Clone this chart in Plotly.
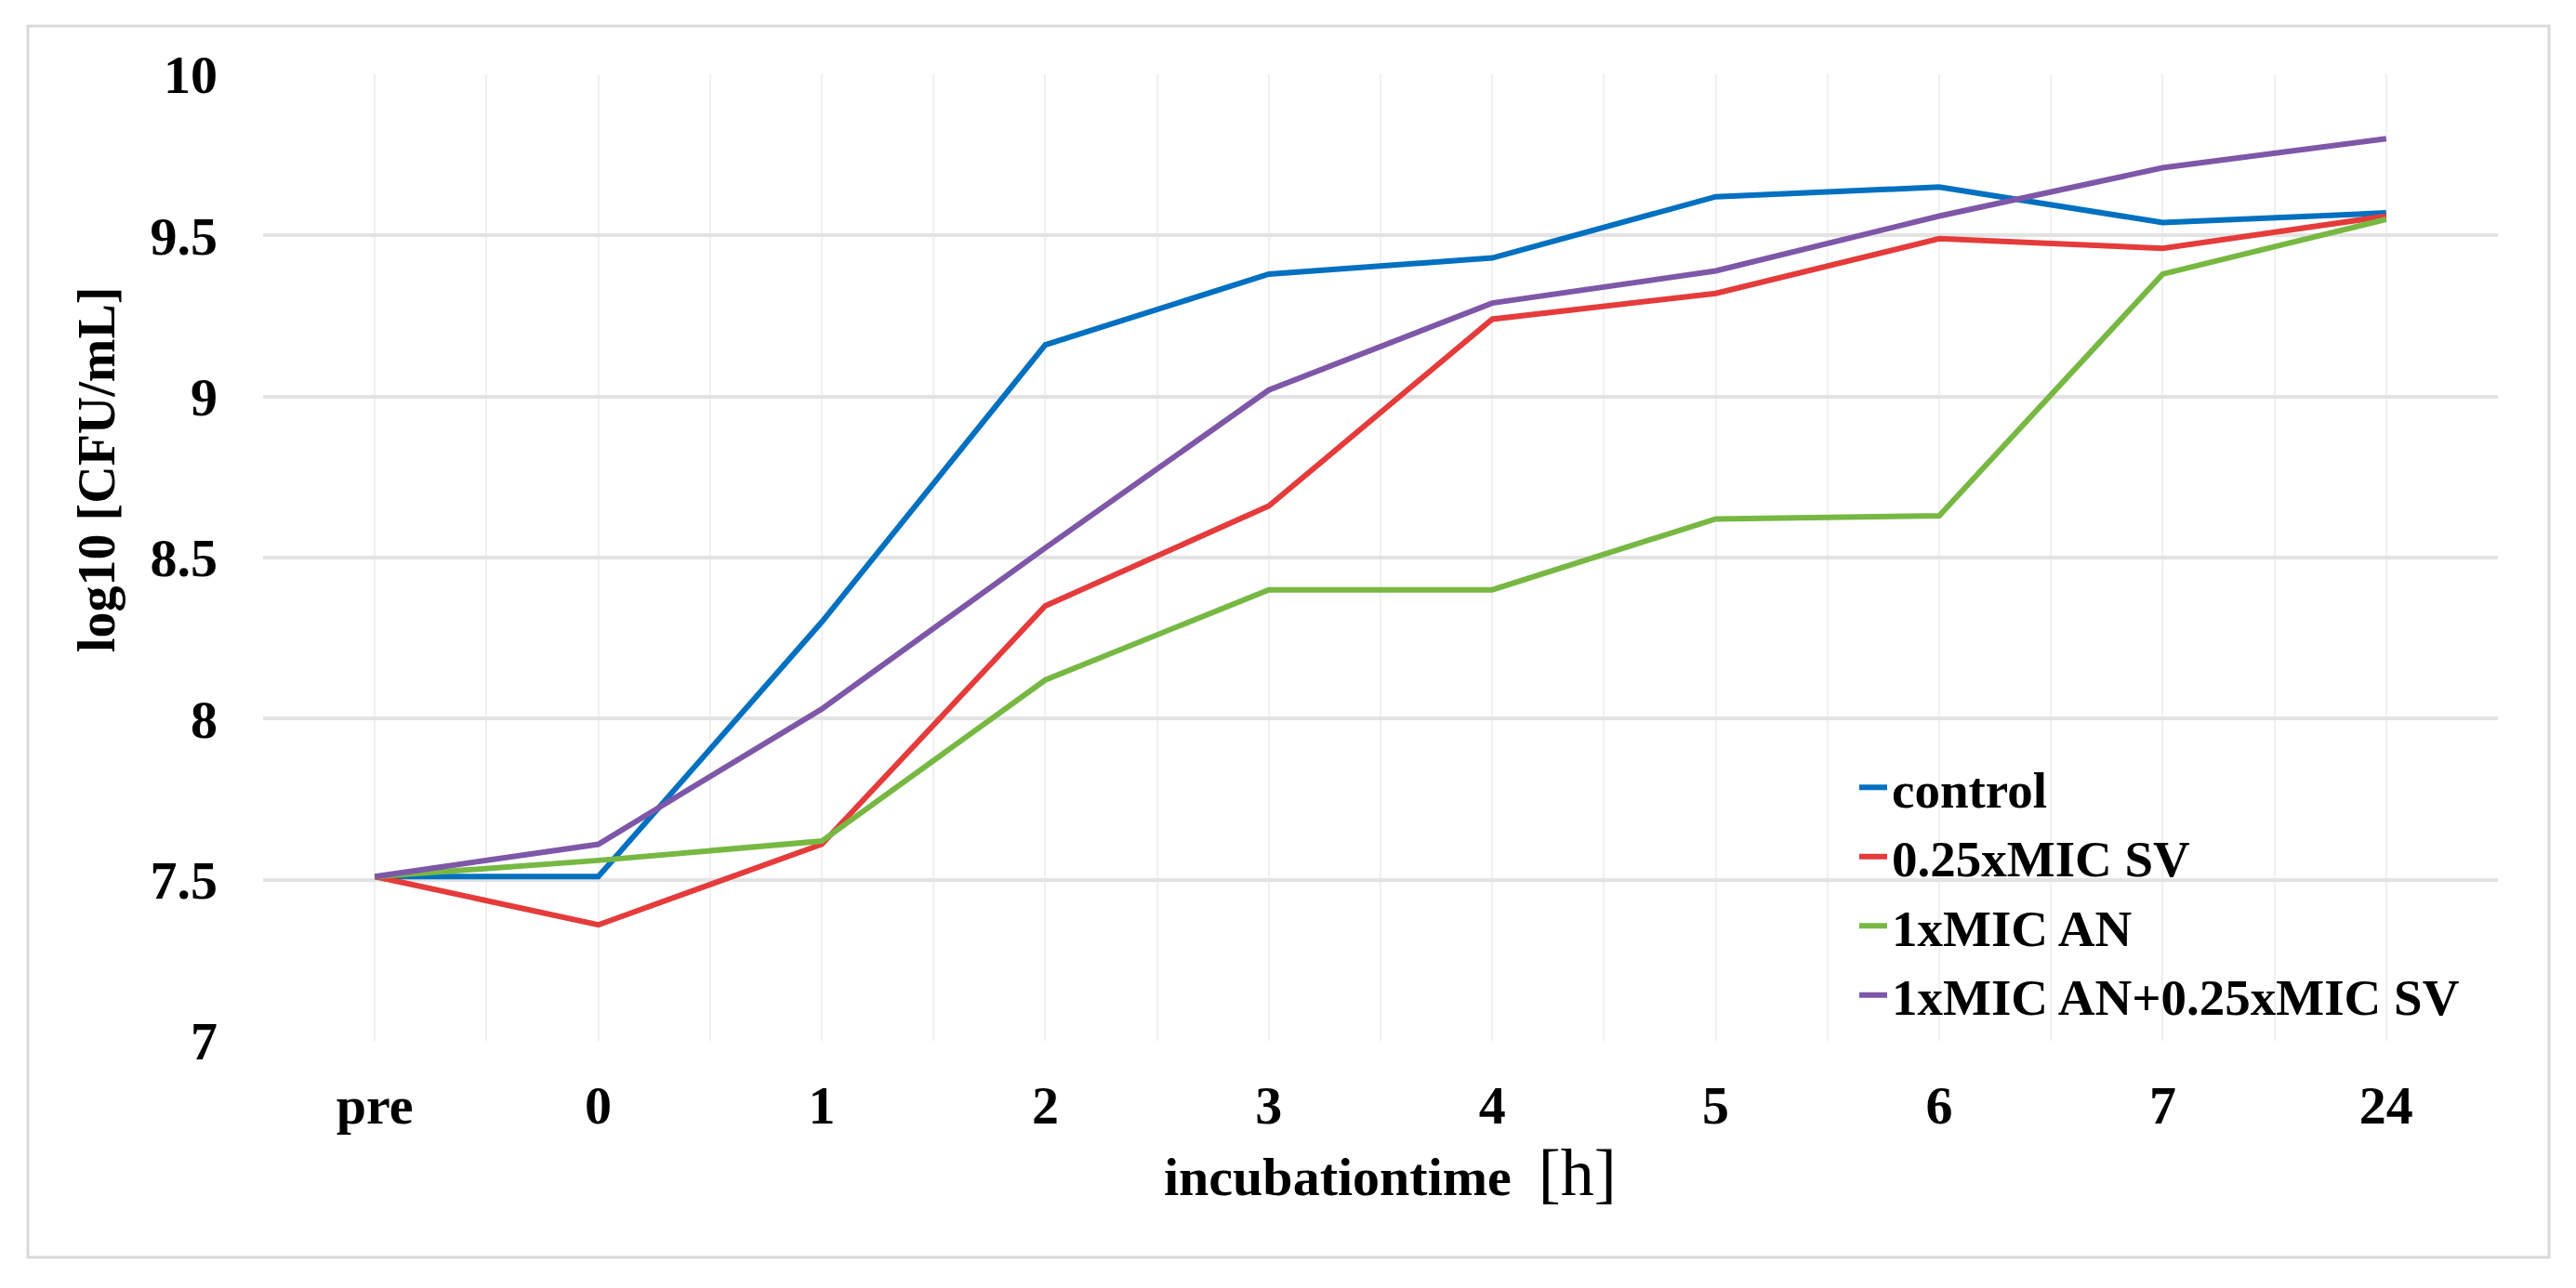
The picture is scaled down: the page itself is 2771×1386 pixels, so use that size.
import plotly.graph_objects as go

time_labels = ["pre", "0", "1", "2", "3", "4", "5", "6", "7", "24"]
series_names = ["control", "0.25xMIC SV", "1xMIC AN", "1xMIC AN+0.25xMIC SV"]
control = [7.51, 7.51, 8.30, 9.16, 9.38, 9.43, 9.62, 9.65, 9.54, 9.57]
sv_025 = [7.51, 7.36, 7.61, 8.35, 8.66, 9.24, 9.32, 9.49, 9.46, 9.56]
an_1 = [7.51, 7.56, 7.62, 8.12, 8.40, 8.40, 8.62, 8.63, 9.38, 9.55]
an_sv = [7.51, 7.61, 8.03, 8.53, 9.02, 9.29, 9.39, 9.56, 9.71, 9.80]
y_ticks = [7, 7.5, 8, 8.5, 9, 9.5, 10]

colors = ["#0070C0", "#E53B3B", "#77B843", "#7E57A8"]
series = [control, sv_025, an_1, an_sv]

W, H = 2771, 1386
L, R, T, B = 283, 2687, 80, 1120
PW, PH = R - L, B - T

def px(x):
    return (x - L) / PW

def py(y):
    return (B - y) / PH

FONT = "Liberation Serif"
xs = list(range(len(time_labels)))

fig = go.Figure()
for name, vals, col in zip(series_names, series, colors):
    fig.add_trace(go.Scatter(x=xs, y=vals, name=name, mode="lines",
                             line=dict(color=col, width=6)))

fig.update_layout(
    width=W, height=H,
    margin=dict(l=L, r=W - R, t=T, b=H - B),
    paper_bgcolor="white", plot_bgcolor="white",
    font=dict(family=FONT, size=56, color="black"),
    showlegend=True,
    legend=dict(x=px(1995), y=py(805), xanchor="left", yanchor="top",
                bgcolor="rgba(0,0,0,0)", font=dict(family=FONT, size=55, color="black", weight="bold"),
                tracegroupgap=0),
    xaxis=dict(range=[-0.5, len(time_labels) - 0.5], tickvals=xs, ticktext=time_labels,
               showgrid=True, gridcolor="#F0F0F0", gridwidth=2,
               minor=dict(tick0=-0.5, dtick=1, showgrid=True, gridcolor="#F0F0F0", gridwidth=2),
               showline=False, zeroline=False, ticks="",
               tickfont=dict(family=FONT, size=58, color="black", weight="bold"),
               ticklabelstandoff=30),
    yaxis=dict(range=[7, 10], tickvals=y_ticks, showgrid=True, gridcolor="#E3E3E3", gridwidth=4,
               showline=False, zeroline=False, ticks="",
               tickfont=dict(family=FONT, size=58, color="black", weight="bold"),
               ticklabelstandoff=48),
)

fig.add_shape(type="rect", xref="paper", yref="paper",
              x0=px(30), x1=px(2742), y0=py(1353), y1=py(28),
              line=dict(color="#D9D9D9", width=3), fillcolor="rgba(0,0,0,0)", layer="below")

fig.add_annotation(xref="paper", yref="paper", x=px(104), y=py(505),
                   text="<b>log10 [CFU/mL]</b>", textangle=-90, showarrow=False,
                   font=dict(family=FONT, size=56, color="black"),
                   xanchor="center", yanchor="middle")

fig.add_annotation(xref="paper", yref="paper", x=px(1495), y=py(1262),
                   text="<b>incubationtime</b>  <span style='font-size:72px'>[h]</span>",
                   showarrow=False, font=dict(family=FONT, size=58, color="black"),
                   xanchor="center", yanchor="middle")

fig.write_html("out.html")
